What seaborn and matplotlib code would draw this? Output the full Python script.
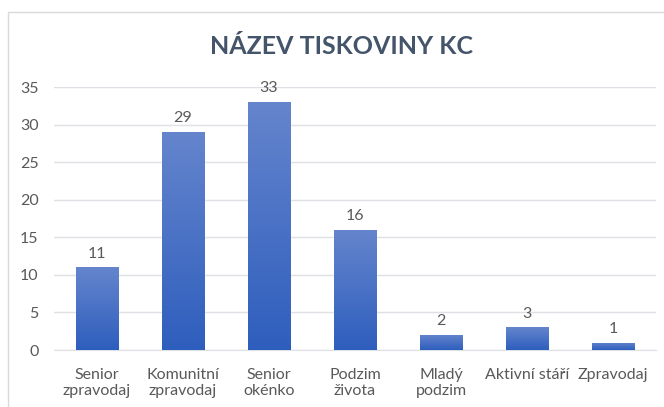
import matplotlib
matplotlib.use("Agg")
import matplotlib.pyplot as plt
import numpy as np
import pandas as pd
import seaborn as sns
from matplotlib.colors import LinearSegmentedColormap
from matplotlib.patches import Rectangle

categories = ["Senior\nzpravodaj", "Komunitní\nzpravodaj", "Senior\nokénko",
              "Podzim\nživota", "Mladý\npodzim", "Aktivní stáří", "Zpravodaj"]
counts = [11, 29, 33, 16, 2, 3, 1]
title = "NÁZEV TISKOVINY KC"

TEXT = "#595959"
GRID = "#dde0e5"


def main():
    df = pd.DataFrame({"name": categories, "count": counts})
    sns.set_style("white")
    plt.rcParams["font.family"] = ["Lato", "DejaVu Sans"]

    fig = plt.figure(figsize=(6.64, 4.07), dpi=100)
    ax = fig.add_axes([0.081, 0.14, 0.907, 0.646])

    # chart frame like the office chart border
    fig.patches.append(Rectangle((0.012, -0.05), 1.2, 1.02, transform=fig.transFigure,
                                 fill=False, edgecolor="#d9d9d9", lw=1))

    sns.barplot(data=df, x="name", y="count", ax=ax, width=0.49,
                color="#4472c4", saturation=1, zorder=2)

    # vertical gradient inside each bar
    cmap = LinearSegmentedColormap.from_list("grad", ["#2e5ebd", "#6585cd"])
    grad = np.linspace(0, 1, 256).reshape(-1, 1)
    for bar in ax.patches:
        x0, y0 = bar.get_x(), bar.get_y()
        w, h = bar.get_width(), bar.get_height()
        im = ax.imshow(grad, cmap=cmap, origin="lower", aspect="auto",
                       extent=[x0, x0 + w, y0, y0 + h], zorder=3)
        im.set_clip_path(bar)

    for i, v in enumerate(counts):
        ax.text(i, v + 0.9, str(v), ha="center", va="bottom", fontsize=11.5, color=TEXT)

    ax.set_xlim(-0.5, len(categories) - 0.5)
    ax.set_ylim(0, 35)
    ax.set_yticks(range(0, 36, 5))
    ax.yaxis.grid(True, color=GRID, lw=1)
    ax.set_axisbelow(True)
    for s in ["top", "right", "left"]:
        ax.spines[s].set_visible(False)
    ax.spines["bottom"].set_color(GRID)
    ax.tick_params(axis="both", length=0, labelsize=11.5, labelcolor=TEXT)
    ax.tick_params(axis="y", pad=11)
    ax.tick_params(axis="x", pad=13)
    ax.set_xlabel("")
    ax.set_ylabel("")

    fig.text(0.515, 0.885, title, ha="center", va="center", fontsize=18,
             fontweight="bold", color="#44546a")

    fig.savefig("out.png", dpi=100)


if __name__ == "__main__":
    main()
